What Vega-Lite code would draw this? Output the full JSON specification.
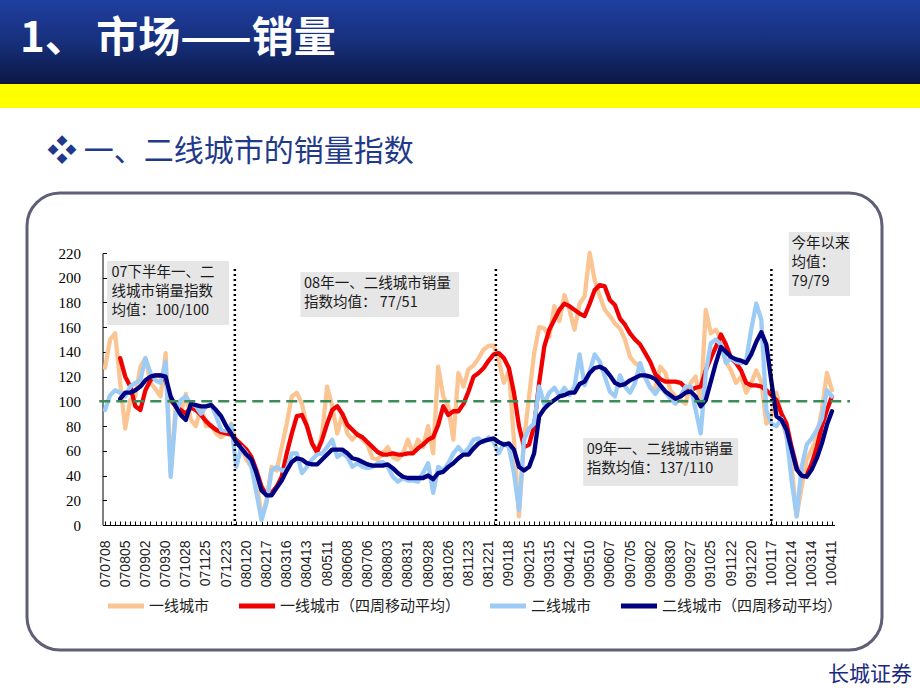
{
  "$schema": "https://vega.github.io/schema/vega-lite/v6.json",
  "padding": 0,
  "background": "white",
  "spacing": 27,
  "title": {"text": "长城证券", "orient": "bottom", "anchor": "end", "offset": 12, "dx": -8, "fontSize": 21, "color": "#1b2a80", "font": "Noto Sans CJK SC", "fontWeight": "normal"},
  "datasets": {
    "weekly": [
      {"d":"2007-07-08","a":127,"c":93},
      {"d":"2007-07-15","a":150,"c":105},
      {"d":"2007-07-22","a":155,"c":109},
      {"d":"2007-07-29","a":115,"b":135,"c":107,"e":102},
      {"d":"2007-08-05","a":78,"b":120,"c":104,"e":107},
      {"d":"2007-08-12","a":101,"b":112,"c":112,"e":107},
      {"d":"2007-08-19","a":104,"b":96,"c":115,"e":109},
      {"d":"2007-08-26","a":128,"b":93,"c":117,"e":112},
      {"d":"2007-09-02","a":135,"b":109,"c":135,"e":117},
      {"d":"2007-09-09","a":115,"b":117,"c":123,"e":120},
      {"d":"2007-09-16","a":110,"b":121,"c":117,"e":121},
      {"d":"2007-09-23","a":104,"b":121,"c":115,"e":121},
      {"d":"2007-09-30","a":139,"b":117,"c":132,"e":120},
      {"d":"2007-10-07","a":42,"b":101,"c":39,"e":104},
      {"d":"2007-10-14","a":96,"b":96,"c":90,"e":96},
      {"d":"2007-10-21","a":90,"b":93,"c":101,"e":89},
      {"d":"2007-10-28","a":106,"b":90,"c":104,"e":85},
      {"d":"2007-11-04","a":85,"b":95,"c":98,"e":98},
      {"d":"2007-11-11","a":80,"b":93,"c":96,"e":97},
      {"d":"2007-11-18","a":96,"b":89,"c":90,"e":96},
      {"d":"2007-11-25","a":80,"b":84,"c":96,"e":96},
      {"d":"2007-12-02","a":81,"b":80,"c":98,"e":97},
      {"d":"2007-12-09","a":74,"b":77,"c":88,"e":93},
      {"d":"2007-12-16","a":71,"b":75,"c":77,"e":88},
      {"d":"2007-12-23","a":74,"b":74,"c":76,"e":80},
      {"d":"2007-12-30","a":82,"b":73,"c":81,"e":74},
      {"d":"2008-01-06","a":66,"b":69,"c":47,"e":67},
      {"d":"2008-01-13","a":63,"b":65,"c":63,"e":62},
      {"d":"2008-01-20","a":53,"b":61,"c":58,"e":57},
      {"d":"2008-01-27","a":47,"b":55,"c":47,"e":53},
      {"d":"2008-02-03","a":36,"b":44,"c":26,"e":42},
      {"d":"2008-02-10","a":6,"b":31,"c":4,"e":28},
      {"d":"2008-02-17","a":20,"b":24,"c":18,"e":24},
      {"d":"2008-02-24","a":47,"b":26,"c":44,"e":24},
      {"d":"2008-03-02","a":44,"b":31,"c":47,"e":30},
      {"d":"2008-03-09","a":63,"b":39,"c":44,"e":36},
      {"d":"2008-03-16","a":82,"b":58,"c":45,"e":44},
      {"d":"2008-03-23","a":104,"b":74,"c":58,"e":51},
      {"d":"2008-03-30","a":107,"b":88,"c":58,"e":54},
      {"d":"2008-04-06","a":98,"b":89,"c":42,"e":53},
      {"d":"2008-04-13","a":80,"b":80,"c":47,"e":50},
      {"d":"2008-04-20","a":66,"b":66,"c":53,"e":49},
      {"d":"2008-04-27","a":58,"b":59,"c":57,"e":49},
      {"d":"2008-05-04","a":74,"b":69,"c":58,"e":53},
      {"d":"2008-05-11","a":112,"b":82,"c":63,"e":57},
      {"d":"2008-05-18","a":96,"b":93,"c":69,"e":61},
      {"d":"2008-05-25","a":74,"b":96,"c":55,"e":61},
      {"d":"2008-06-01","a":90,"b":90,"c":58,"e":61},
      {"d":"2008-06-08","a":74,"b":81,"c":55,"e":58},
      {"d":"2008-06-15","a":69,"b":77,"c":47,"e":54},
      {"d":"2008-06-22","a":74,"b":73,"c":50,"e":53},
      {"d":"2008-06-29","a":69,"b":71,"c":47,"e":51},
      {"d":"2008-07-06","a":65,"b":67,"c":46,"e":49},
      {"d":"2008-07-13","a":54,"b":63,"c":47,"e":48},
      {"d":"2008-07-20","a":53,"b":59,"c":50,"e":48},
      {"d":"2008-07-27","a":58,"b":57,"c":51,"e":48},
      {"d":"2008-08-03","a":63,"b":57,"c":47,"e":49},
      {"d":"2008-08-10","a":55,"b":58,"c":39,"e":46},
      {"d":"2008-08-17","a":53,"b":57,"c":35,"e":42},
      {"d":"2008-08-24","a":58,"b":57,"c":38,"e":39},
      {"d":"2008-08-31","a":69,"b":58,"c":36,"e":38},
      {"d":"2008-09-07","a":58,"b":58,"c":36,"e":38},
      {"d":"2008-09-14","a":69,"b":62,"c":35,"e":38},
      {"d":"2008-09-21","a":63,"b":65,"c":42,"e":38},
      {"d":"2008-09-28","a":80,"b":69,"c":50,"e":40},
      {"d":"2008-10-05","a":58,"b":71,"c":26,"e":37},
      {"d":"2008-10-12","a":128,"b":81,"c":47,"e":42},
      {"d":"2008-10-19","a":104,"b":96,"c":44,"e":43},
      {"d":"2008-10-26","a":96,"b":89,"c":50,"e":47},
      {"d":"2008-11-02","a":69,"b":92,"c":58,"e":50},
      {"d":"2008-11-09","a":123,"b":92,"c":63,"e":54},
      {"d":"2008-11-16","a":112,"b":98,"c":58,"e":57},
      {"d":"2008-11-23","a":126,"b":108,"c":62,"e":57},
      {"d":"2008-11-30","a":129,"b":120,"c":69,"e":62},
      {"d":"2008-12-07","a":135,"b":123,"c":70,"e":66},
      {"d":"2008-12-14","a":142,"b":127,"c":67,"e":68},
      {"d":"2008-12-21","a":145,"b":133,"c":71,"e":69},
      {"d":"2008-12-28","a":145,"b":138,"c":67,"e":70},
      {"d":"2009-01-04","a":133,"b":139,"c":58,"e":67},
      {"d":"2009-01-11","a":115,"b":135,"c":66,"e":65},
      {"d":"2009-01-18","a":125,"b":127,"c":63,"e":66},
      {"d":"2009-01-25","a":69,"b":107,"c":42,"e":61},
      {"d":"2009-02-01","a":7,"b":80,"c":12,"e":47},
      {"d":"2009-02-08","a":69,"b":63,"c":69,"e":44},
      {"d":"2009-02-15","a":104,"b":65,"c":78,"e":47},
      {"d":"2009-02-22","a":139,"b":80,"c":82,"e":58},
      {"d":"2009-03-01","a":160,"b":115,"c":112,"e":88},
      {"d":"2009-03-08","a":159,"b":144,"c":98,"e":94},
      {"d":"2009-03-15","a":152,"b":158,"c":107,"e":98},
      {"d":"2009-03-22","a":177,"b":166,"c":111,"e":101},
      {"d":"2009-03-29","a":165,"b":174,"c":105,"e":104},
      {"d":"2009-04-05","a":186,"b":179,"c":111,"e":105},
      {"d":"2009-04-12","a":174,"b":177,"c":105,"e":107},
      {"d":"2009-04-19","a":158,"b":174,"c":112,"e":107},
      {"d":"2009-04-26","a":179,"b":171,"c":138,"e":114},
      {"d":"2009-05-03","a":185,"b":169,"c":113,"e":116},
      {"d":"2009-05-10","a":220,"b":179,"c":124,"e":123},
      {"d":"2009-05-17","a":198,"b":190,"c":138,"e":127},
      {"d":"2009-05-24","a":185,"b":194,"c":132,"e":128},
      {"d":"2009-05-31","a":174,"b":193,"c":120,"e":126},
      {"d":"2009-06-07","a":169,"b":182,"c":108,"e":121},
      {"d":"2009-06-14","a":163,"b":178,"c":104,"e":115},
      {"d":"2009-06-21","a":159,"b":167,"c":121,"e":113},
      {"d":"2009-06-28","a":150,"b":162,"c":112,"e":114},
      {"d":"2009-07-05","a":136,"b":155,"c":107,"e":117},
      {"d":"2009-07-12","a":131,"b":150,"c":115,"e":119},
      {"d":"2009-07-19","a":128,"b":146,"c":131,"e":121},
      {"d":"2009-07-26","a":120,"b":139,"c":119,"e":121},
      {"d":"2009-08-02","a":111,"b":132,"c":111,"e":120},
      {"d":"2009-08-09","a":110,"b":122,"c":106,"e":118},
      {"d":"2009-08-16","a":128,"b":118,"c":112,"e":113},
      {"d":"2009-08-23","a":123,"b":116,"c":107,"e":108},
      {"d":"2009-08-30","a":109,"b":116,"c":102,"e":105},
      {"d":"2009-09-06","a":104,"b":116,"c":98,"e":102},
      {"d":"2009-09-13","a":101,"b":115,"c":104,"e":104},
      {"d":"2009-09-20","a":98,"b":111,"c":112,"e":107},
      {"d":"2009-09-27","a":115,"b":109,"c":112,"e":108},
      {"d":"2009-10-04","a":120,"b":111,"c":93,"e":104},
      {"d":"2009-10-11","a":98,"b":112,"c":74,"e":96},
      {"d":"2009-10-18","a":174,"b":125,"c":123,"e":101},
      {"d":"2009-10-25","a":155,"b":135,"c":147,"e":116},
      {"d":"2009-11-01","a":158,"b":144,"c":150,"e":131},
      {"d":"2009-11-08","a":150,"b":154,"c":146,"e":144},
      {"d":"2009-11-15","a":132,"b":146,"c":131,"e":140},
      {"d":"2009-11-22","a":125,"b":135,"c":135,"e":136},
      {"d":"2009-11-29","a":115,"b":131,"c":132,"e":134},
      {"d":"2009-12-06","a":120,"b":125,"c":131,"e":133},
      {"d":"2009-12-13","a":107,"b":115,"c":133,"e":131},
      {"d":"2009-12-20","a":115,"b":113,"c":158,"e":138},
      {"d":"2009-12-27","a":125,"b":113,"c":179,"e":148},
      {"d":"2010-01-03","a":116,"b":112,"c":166,"e":156},
      {"d":"2010-01-10","a":82,"b":109,"c":93,"e":146},
      {"d":"2010-01-17","a":88,"b":105,"c":82,"e":116},
      {"d":"2010-01-24","a":107,"b":101,"c":80,"e":88},
      {"d":"2010-01-31","a":88,"b":90,"c":86,"e":85},
      {"d":"2010-02-07","a":71,"b":82,"c":73,"e":77},
      {"d":"2010-02-14","a":47,"b":63,"c":36,"e":61},
      {"d":"2010-02-21","a":7,"b":47,"c":7,"e":45},
      {"d":"2010-02-28","a":31,"b":39,"c":47,"e":40},
      {"d":"2010-03-07","a":53,"b":40,"c":65,"e":39},
      {"d":"2010-03-14","a":61,"b":50,"c":70,"e":45},
      {"d":"2010-03-21","a":71,"b":63,"c":77,"e":54},
      {"d":"2010-03-28","a":93,"b":80,"c":86,"e":66},
      {"d":"2010-04-04","a":123,"b":93,"c":109,"e":81},
      {"d":"2010-04-11","a":109,"b":104,"c":104,"e":92}
    ],
    "boxes": [
      {"x1":"2007-07-11","x2":"2007-12-27","y1":213.6,"y2":161.8},
      {"x1":"2008-04-04","x2":"2008-11-10","y1":204.7,"y2":168.3},
      {"x1":"2009-05-01","x2":"2009-12-02","y1":70.4,"y2":31.6},
      {"x1":"2010-02-10","x2":"2010-05-06","y1":237,"y2":185.3}
    ],
    "notes": [
      {"d":"2007-07-17","v":209.5,"t":"07下半年一、二\n线城市销量指数\n均值：100/100"},
      {"d":"2008-04-09","v":200.2,"t":"08年一、二线城市销量\n指数均值：  77/51"},
      {"d":"2009-05-06","v":66.7,"t":"09年一、二线城市销量\n指数均值：137/110"},
      {"d":"2010-02-14","v":232.6,"t":"今年以来\n均值：\n79/79"}
    ],
    "seps": [
      {"d":"2008-01-04","top":207},
      {"d":"2008-12-31","top":207},
      {"d":"2010-01-17","top":207}
    ],
    "ref": [
      {"x1":"2007-06-30","x2":"2010-05-06","v":100}
    ]
  },
  "vconcat": [
    {
      "spacing": 0,
      "vconcat": [
        {
          "width": 920,
          "height": 84,
          "data": {"values": [{}]},
          "view": {"stroke": null},
          "mark": {"type": "rect", "fill": {"gradient": "linear", "x1": 0, "y1": 0, "x2": 0, "y2": 1, "stops": [{"offset": 0, "color": "#1f3e9f"}, {"offset": 0.5, "color": "#17307c"}, {"offset": 1, "color": "#0b1742"}]}},
          "title": {"text": "1、 市场——销量", "anchor": "start", "offset": -61, "dx": 20, "fontSize": 42, "fontWeight": "bold", "font": "Noto Sans CJK SC", "color": "white"}
        },
        {
          "width": 920,
          "height": 24,
          "data": {"values": [{}]},
          "view": {"stroke": null},
          "mark": {"type": "rect", "fill": "#ffff00"}
        }
      ]
    },
    {
      "spacing": 0,
      "hconcat": [
        {
          "width": 25,
          "height": 10,
          "data": {"values": [{}]},
          "view": {"stroke": null},
          "mark": {"type": "point", "opacity": 0}
        },
        {
          "width": 855,
          "height": 457,
          "view": {"stroke": "#5f5f78", "strokeWidth": 3, "cornerRadius": 33, "fill": "white"},
          "title": {"text": "❖ 一、二线城市的销量指数", "anchor": "start", "dx": 20, "offset": 26, "fontSize": 30, "font": "Noto Sans CJK SC", "fontWeight": "normal", "color": "#1f3a8a"},
          "layer": [
            {
              "data": {"name": "weekly", "format": {"parse": {"d": "date:'%Y-%m-%d'"}}},
              "transform": [{"fold": ["a", "b", "c", "e"], "as": ["k", "v"]}],
              "mark": {"type": "line", "strokeWidth": 4.3, "strokeJoin": "round", "strokeCap": "round"},
              "encoding": {
                "x": {"field": "d", "type": "temporal",
                  "scale": {"domain": [{"year": 2007, "month": 7, "date": 4, "hours": 12}, {"year": 2010, "month": 4, "date": 14, "hours": 12}], "range": [75.5, 807.5]},
                  "axis": {
                    "tickCount": {"interval": "week", "step": 1},
                    "labelExpr": "round((datum.value - datetime(2007,6,8)) / 604800000) % 4 == 0 ? timeFormat(datum.value, '%y%m%d') : ''",
                    "labelAngle": 270, "labelFont": "Liberation Sans", "labelFontSize": 14, "labelColor": "#222", "labelPadding": 19, "tickSize": -4, "tickColor": "#000", "domainColor": "#000", "grid": false, "title": null, "offset": -125, "labelOverlap": false, "labelFlush": false, "labelBound": false}},
                "y": {"field": "v", "type": "quantitative",
                  "scale": {"domain": [0, 220], "range": [332, 60]},
                  "axis": {"values": [0, 20, 40, 60, 80, 100, 120, 140, 160, 180, 200, 220], "labelFont": "Liberation Serif", "labelFontSize": 15, "labelColor": "#000", "labelPadding": 26, "tickSize": -4, "tickColor": "#000", "domainColor": "#000", "grid": false, "title": null, "offset": -75.5}},
                "color": {"field": "k", "type": "nominal",
                  "scale": {"domain": ["a", "b", "c", "e"], "range": ["#fbc593", "#f00000", "#9ccbf5", "#000080"]},
                  "legend": {"title": null, "labelExpr": "datum.label == 'a' ? '一线城市' : datum.label == 'b' ? '一线城市（四周移动平均）' : datum.label == 'c' ? '二线城市' : '二线城市（四周移动平均）'"}}
              }
            },
            {
              "data": {"name": "ref", "format": {"parse": {"x1": "date:'%Y-%m-%d'", "x2": "date:'%Y-%m-%d'"}}},
              "mark": {"type": "rule", "strokeDash": [11, 6], "strokeWidth": 2.5, "color": "#3c8c5a"},
              "encoding": {
                "x": {"field": "x1", "type": "temporal", "scale": {"domain": [{"year": 2007, "month": 7, "date": 4, "hours": 12}, {"year": 2010, "month": 4, "date": 14, "hours": 12}], "range": [75.5, 807.5]}},
                "x2": {"field": "x2"},
                "y": {"field": "v", "type": "quantitative", "scale": {"domain": [0, 220], "range": [332, 60]}}
              }
            },
            {
              "data": {"name": "seps", "format": {"parse": {"d": "date:'%Y-%m-%d'"}}},
              "mark": {"type": "rule", "strokeDash": [2, 3], "strokeWidth": 2.5, "color": "#000"},
              "encoding": {
                "x": {"field": "d", "type": "temporal", "scale": {"domain": [{"year": 2007, "month": 7, "date": 4, "hours": 12}, {"year": 2010, "month": 4, "date": 14, "hours": 12}], "range": [75.5, 807.5]}},
                "y": {"field": "top", "type": "quantitative", "scale": {"domain": [0, 220], "range": [332, 60]}},
                "y2": {"datum": 0}
              }
            },
            {
              "data": {"name": "boxes", "format": {"parse": {"x1": "date:'%Y-%m-%d'", "x2": "date:'%Y-%m-%d'"}}},
              "mark": {"type": "rect", "fill": "#e6e6e6"},
              "encoding": {
                "x": {"field": "x1", "type": "temporal", "scale": {"domain": [{"year": 2007, "month": 7, "date": 4, "hours": 12}, {"year": 2010, "month": 4, "date": 14, "hours": 12}], "range": [75.5, 807.5]}},
                "x2": {"field": "x2"},
                "y": {"field": "y1", "type": "quantitative", "scale": {"domain": [0, 220], "range": [332, 60]}},
                "y2": {"field": "y2"}
              }
            },
            {
              "data": {"name": "notes", "format": {"parse": {"d": "date:'%Y-%m-%d'"}}},
              "mark": {"type": "text", "align": "left", "baseline": "top", "lineBreak": "\n", "fontSize": 14.5, "lineHeight": 19, "font": "Noto Sans CJK SC", "color": "#1a1a1a"},
              "encoding": {
                "x": {"field": "d", "type": "temporal", "scale": {"domain": [{"year": 2007, "month": 7, "date": 4, "hours": 12}, {"year": 2010, "month": 4, "date": 14, "hours": 12}], "range": [75.5, 807.5]}},
                "y": {"field": "v", "type": "quantitative", "scale": {"domain": [0, 220], "range": [332, 60]}},
                "text": {"field": "t"}
              }
            }
          ]
        }
      ]
    }
  ],
  "config": {
    "font": "Noto Sans CJK SC",
    "view": {"stroke": null},
    "legend": {"orient": "none", "legendX": 105, "legendY": 585, "direction": "horizontal", "columns": 4, "columnPadding": 18, "labelFont": "Noto Sans CJK SC", "labelFontSize": 15, "labelColor": "#222", "labelLimit": 400, "labelOffset": 2, "symbolType": "stroke", "symbolSize": 1300, "symbolStrokeWidth": 5, "padding": 0}
  }
}
